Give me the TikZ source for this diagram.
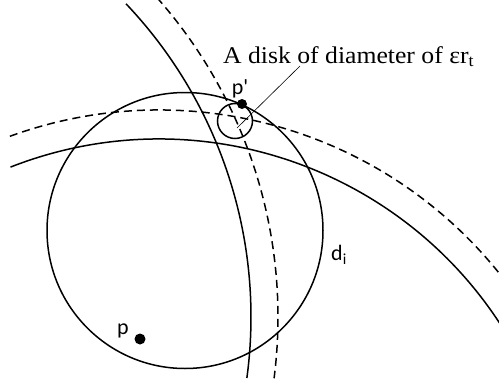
\documentclass[tikz,border=0pt]{standalone}
\usepackage{fontspec}
\setmainfont{Liberation Serif}
\newfontfamily\labelfont{Carlito}
\usepackage{tikz}
\usetikzlibrary{positioning}

\begin{document}
\begin{tikzpicture}[x=1pt, y=-1pt,
  curve/.style={line width=1.5pt, black},
  dashcurve/.style={curve, dash pattern=on 8pt off 5pt},
  ptlabel/.style={font=\labelfont\fontsize{22}{22}\selectfont, inner sep=0pt},
  dot/.style={circle, fill=black, inner sep=0pt, minimum size=11pt},
  leader/.style={line width=0.6pt}
]
  \useasboundingbox (0,0) rectangle (499,386);
  \clip (0,0) rectangle (499,386);

  % Centres
  \coordinate (cv) at (-204,317);
  \coordinate (ch) at (159,546);
  \coordinate (di) at (185,230.5);
  \coordinate (eps) at (235,121);

  % Boundary arcs
  \draw[curve] (cv) ++(-43.5:455) arc[start angle=-43.5, end angle=7.7, radius=455];
  \draw[dashcurve] (cv) ++(-41.5:482) arc[start angle=-41.5, end angle=7.3, radius=482];
  \draw[curve] (ch) ++(-111.4:407) arc[start angle=-111.4, end angle=-25, radius=407];
  \draw[dashcurve] (ch) ++(-110:436) arc[start angle=-110, end angle=-30, radius=436];

  % Disk d_i and the small disk
  \draw[curve] (di) circle[radius=138];
  \draw[curve] (eps) circle[radius=17.5];

  % Points
  \node[dot] (p) at (140,339) {};
  \node[dot, minimum size=10pt] (pp) at (242,104) {};
  \node[ptlabel] (plabel) at (123,331) {p};
  \node[ptlabel] (pplabel) at (240,89) {p'};
  \node[ptlabel] (dlabel) at (339,255) {d\textsubscript{i}};

  % Annotation
  \node[anchor=base west, inner sep=0pt, font=\fontsize{24}{24}\selectfont\addfontfeature{FakeStretch=1.07}] (disklabel) at (223,63) {A disk of diameter of εr\textsubscript{t}};
  \coordinate (leadend) at (237,128);
  \coordinate (leadtip) at (300,66);
  \draw[leader] (leadend) -- (leadtip);
\end{tikzpicture}
\end{document}
